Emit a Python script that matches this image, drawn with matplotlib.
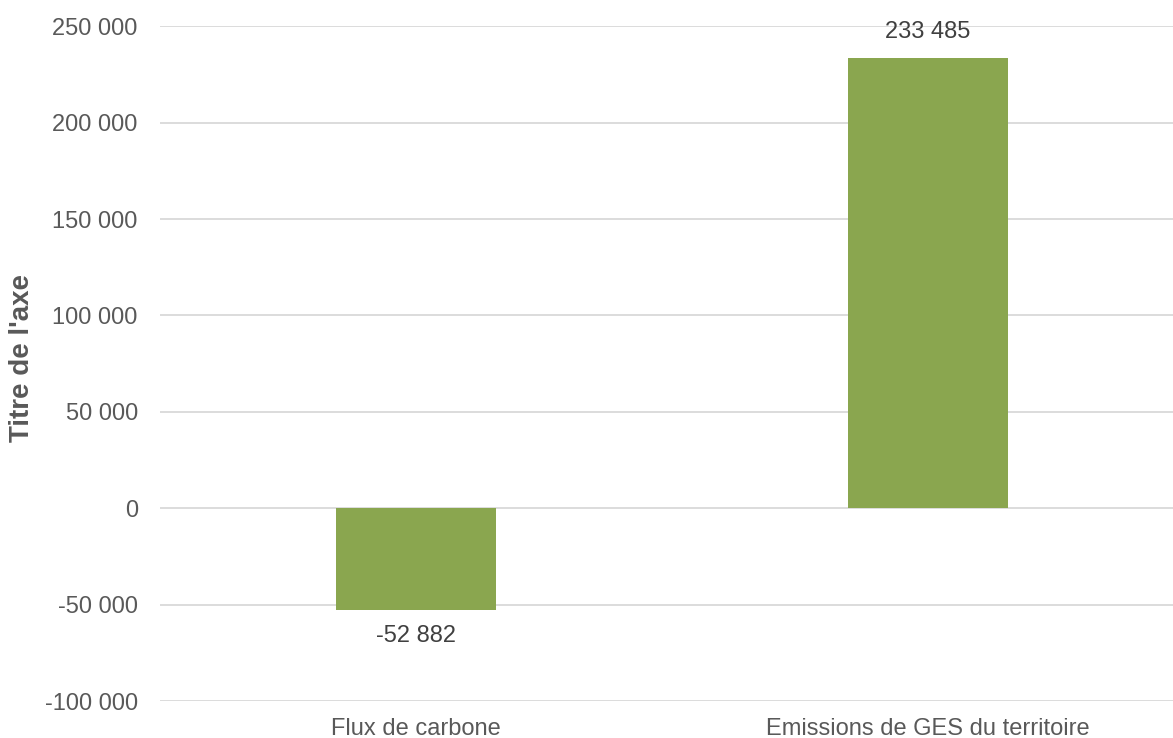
import matplotlib
matplotlib.use("Agg")
import matplotlib.pyplot as plt
from matplotlib.ticker import FuncFormatter, MultipleLocator

# data
categories = ["Flux de carbone", "Emissions de GES du territoire"]
values = [-52882, 233485]
y_min, y_max, y_step = -100000, 250000, 50000

BAR_COLOR = "#8AA64F"
GRID_COLOR = "#D9D9D9"
TICK_COLOR = "#595959"
LABEL_COLOR = "#404040"

plt.rcParams["font.family"] = ["Liberation Sans", "DejaVu Sans"]


def fr_thousands(v, pos=None):
    """Format numbers with a space as thousands separator (French style)."""
    return f"{v:,.0f}".replace(",", " ")


fig = plt.figure(figsize=(11.73, 7.38), dpi=100)
# axes deliberately runs past the right edge, as in the reference crop
ax = fig.add_axes([160 / 1173, 37 / 738, 1023.6 / 1173, 674.7 / 738])

x = list(range(len(categories)))
bars = ax.bar(x, values, width=0.313, color=BAR_COLOR, zorder=3)

ax.set_xlim(-0.5, len(categories) - 0.5)
ax.set_ylim(y_min, y_max)
ax.yaxis.set_major_locator(MultipleLocator(y_step))
ax.yaxis.set_major_formatter(FuncFormatter(fr_thousands))
ax.grid(axis="y", color=GRID_COLOR, linewidth=1.3, zorder=0)

for side in ax.spines.values():
    side.set_visible(False)

ax.set_xticks(x)
ax.set_xticklabels(categories)
ax.tick_params(axis="both", length=0, labelsize=17, labelcolor=TICK_COLOR)
ax.tick_params(axis="y", pad=16)
ax.tick_params(axis="x", pad=12)

ax.set_ylabel("Titre de l'axe", fontsize=20, fontweight="bold", color=TICK_COLOR,
              va="center")
ax.yaxis.set_label_coords(-0.135, 0.508)

for rect, v in zip(bars, values):
    cx = rect.get_x() + rect.get_width() / 2
    if v >= 0:
        ax.annotate(fr_thousands(v), (cx, v), xytext=(0, 11), textcoords="offset points",
                    ha="center", va="bottom", fontsize=17, color=LABEL_COLOR)
    else:
        ax.annotate(fr_thousands(v), (cx, v), xytext=(0, -11), textcoords="offset points",
                    ha="center", va="top", fontsize=17, color=LABEL_COLOR)

fig.savefig("out.png", dpi=100)
